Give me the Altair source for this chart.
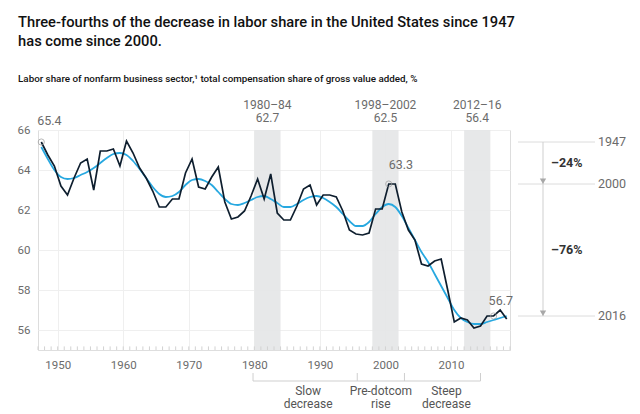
import altair as alt
import pandas as pd

# ---------------- data ----------------
years = list(range(1947, 2019))
labor_share = [
    65.4, 64.75, 64.2, 63.2, 62.75, 63.6, 64.35, 64.55, 63.0, 64.95,
    64.95, 65.05, 64.2, 65.45, 64.85, 64.1, 63.6, 62.95, 62.15, 62.15,
    62.55, 62.55, 63.85, 64.55, 63.15, 63.05, 63.65, 64.15, 62.4, 61.55,
    61.65, 61.95, 62.7, 63.55, 62.55, 63.8, 61.85, 61.5, 61.5, 62.2,
    63.05, 63.25, 62.25, 62.75, 62.75, 62.65, 61.95, 61.0, 60.8, 60.75,
    60.85, 62.05, 62.05, 63.3, 63.3, 61.9, 61.0, 60.5, 59.3, 59.2,
    59.45, 59.55, 58.0, 56.4, 56.6, 56.5, 56.1, 56.2, 56.7, 56.7,
    57.0, 56.55,
]
trend = [
    65.15, 64.55, 64.0, 63.65, 63.55, 63.6, 63.75, 63.9, 64.1, 64.35,
    64.6, 64.8, 64.85, 64.75, 64.45, 64.05, 63.6, 63.15, 62.8, 62.65,
    62.7, 62.9, 63.25, 63.5, 63.55, 63.45, 63.25, 62.9, 62.55, 62.3,
    62.25, 62.35, 62.5, 62.65, 62.7, 62.55, 62.35, 62.15, 62.15, 62.3,
    62.5, 62.65, 62.7, 62.6, 62.4, 62.15, 61.8, 61.45, 61.2, 61.2,
    61.4, 61.8, 62.15, 62.3, 62.15, 61.7, 61.1, 60.5, 59.9, 59.4,
    58.8, 58.2, 57.6, 57.0, 56.6, 56.4, 56.3, 56.3, 56.4, 56.5,
    56.6, 56.7,
]

band_starts = [1980, 1998, 2012]
band_ends = [1984, 2002, 2016]
band_periods = ["1980–84", "1998–2002", "2012–16"]
band_averages = ["62.7", "62.5", "56.4"]

callout_years = [1947, 2000, 2016]
callout_values = [65.4, 63.3, 56.7]
callout_texts = ["65.4", "63.3", "56.7"]

change_labels = ["–24%", "–76%"]
change_positions = [64.35, 60.0]

phase_bounds = [1979.8, 1995.7, 2002.9, 2014.5]
phase_centers = [1988.2, 1999.3, 2009.3]
phase_line1 = ["Slow", "Pre-dotcom", "Steep"]
phase_line2 = ["decrease", "rise", "decrease"]

axis_years = list(range(1947, 2020))
x_label_years = [1950, 1960, 1970, 1980, 1990, 2000, 2010]
y_label_values = [56, 58, 60, 62, 64, 66]

FONT = "Roboto"
GRAY = "#6b6b6b"

# ---------------- tables ----------------
series = pd.DataFrame({"year": years, "share": labor_share, "trend": trend})
bands = pd.DataFrame({"start": band_starts, "end": band_ends,
                      "period": band_periods, "avg": band_averages})
bands["mid"] = (bands["start"] + bands["end"]) / 2
callouts = pd.DataFrame({"year": callout_years, "value": callout_values,
                         "label": callout_texts})
callouts["pos"] = callouts["year"] + 0.5
changes = pd.DataFrame({"label": change_labels, "value": change_positions})
phases = pd.DataFrame({"center": phase_centers, "l1": phase_line1, "l2": phase_line2})
bounds_df = pd.DataFrame({"x": phase_bounds})
span_df = pd.DataFrame({"x": [phase_bounds[0]], "x2": [phase_bounds[-1]]})
ticks_df = pd.DataFrame({"year": axis_years})

xscale = alt.Scale(domain=[1947, 2019], nice=False, zero=False)
yscale = alt.Scale(domain=[55, 66], nice=False, zero=False)

base = alt.Chart(series)

band_layer = alt.Chart(bands).mark_rect(color="#e4e5e7", opacity=0.9).encode(
    x=alt.X("start:Q", scale=xscale,
            axis=alt.Axis(values=x_label_years, format="d", title=None, grid=True,
                          gridColor="#efefef", ticks=False, domain=True,
                          domainColor="#dedede", labelColor=GRAY, labelFont=FONT,
                          labelFontSize=11.5, labelPadding=9)),
    x2="end:Q",
)

tick_layer = alt.Chart(ticks_df).mark_rule(color="#d2d2d2", strokeWidth=1).encode(
    x=alt.X("year:Q", scale=xscale),
    y=alt.datum(55, scale=yscale),
    y2=alt.datum(55.18),
)

trend_layer = base.transform_calculate(pos="datum.year + 0.5").mark_line(
    color="#27a8e0", strokeWidth=1.8, interpolate="monotone"
).encode(
    x=alt.X("pos:Q", scale=xscale),
    y=alt.Y("trend:Q", scale=yscale,
            axis=alt.Axis(values=y_label_values, title=None, grid=True,
                          gridColor="#efefef", ticks=False, domain=False,
                          labelColor=GRAY, labelFont=FONT, labelFontSize=11.5,
                          labelPadding=8)),
)

share_layer = base.transform_calculate(pos="datum.year + 0.5").mark_line(
    color="#0e1e2e", strokeWidth=1.7
).encode(
    x=alt.X("pos:Q", scale=xscale),
    y=alt.Y("share:Q", scale=yscale),
)

circle_layer = alt.Chart(callouts).mark_point(
    shape="circle", size=38, filled=False, color="#9a9a9a", strokeWidth=1
).encode(x=alt.X("pos:Q", scale=xscale), y=alt.Y("value:Q", scale=yscale))

callout_text_layers = []
for i, (dx, dy) in enumerate([(-4, -21), (0, -19), (-5, -15)]):
    callout_text_layers.append(
        alt.Chart(callouts.iloc[[i]]).mark_text(
            align="left", baseline="middle", dx=dx, dy=dy, font=FONT,
            fontSize=12.5, color=GRAY
        ).encode(x=alt.X("pos:Q", scale=xscale), y=alt.Y("value:Q", scale=yscale),
                 text="label:N")
    )

band_period_layer = alt.Chart(bands).mark_text(
    baseline="middle", dy=-25.5, font=FONT, fontSize=12, color=GRAY
).encode(x=alt.X("mid:Q", scale=xscale), y=alt.datum(66, scale=yscale), text="period:N")

band_avg_layer = alt.Chart(bands).mark_text(
    baseline="middle", dy=-12, font=FONT, fontSize=12, color=GRAY
).encode(x=alt.X("mid:Q", scale=xscale), y=alt.datum(66, scale=yscale), text="avg:N")

# right-hand change annotation
ref_lines = alt.Chart(callouts).mark_rule(color="#dcdcdc", strokeWidth=1).encode(
    x=alt.value(480), x2=alt.value(557), y=alt.Y("value:Q", scale=yscale)
)
ref_labels = alt.Chart(callouts).mark_text(
    align="left", baseline="middle", font=FONT, fontSize=12.5, color=GRAY
).encode(x=alt.value(560), y=alt.Y("value:Q", scale=yscale), text="year:N")
arrow_stem = alt.Chart(callouts.iloc[[0]]).mark_rule(color="#cfcfcf", strokeWidth=1).encode(
    x=alt.value(505), y=alt.datum(callout_values[0], scale=yscale),
    y2=alt.datum(callout_values[-1])
)
arrow_heads = alt.Chart(callouts.iloc[1:]).mark_point(
    shape="M-1,-1.7L1,-1.7L0,0Z", size=40, filled=True, color="#a8a8a8", opacity=1
).encode(x=alt.value(505), y=alt.Y("value:Q", scale=yscale))
change_text = alt.Chart(changes).mark_text(
    align="left", baseline="middle", font=FONT, fontSize=12.5, fontWeight="bold",
    color="#333333"
).encode(x=alt.value(513), y=alt.Y("value:Q", scale=yscale), text="label:N")

# bottom phase brackets
bracket_line = alt.Chart(span_df).mark_rule(color="#cfcfcf", strokeWidth=1).encode(
    x=alt.X("x:Q", scale=xscale), x2="x2:Q", y=alt.value(251)
)
bracket_ticks = alt.Chart(bounds_df).mark_rule(color="#cfcfcf", strokeWidth=1).encode(
    x=alt.X("x:Q", scale=xscale), y=alt.value(243), y2=alt.value(251)
)
phase_text1 = alt.Chart(phases).mark_text(
    baseline="alphabetic", font=FONT, fontSize=12, color="#555555"
).encode(x=alt.X("center:Q", scale=xscale), y=alt.value(264.5), text="l1:N")
phase_text2 = alt.Chart(phases).mark_text(
    baseline="alphabetic", font=FONT, fontSize=12, color="#555555"
).encode(x=alt.X("center:Q", scale=xscale), y=alt.value(278), text="l2:N")

chart = alt.layer(
    band_layer, tick_layer, trend_layer, share_layer, circle_layer,
    *callout_text_layers, band_period_layer, band_avg_layer,
    ref_lines, ref_labels, arrow_stem, arrow_heads, change_text,
    bracket_line, bracket_ticks, phase_text1, phase_text2,
).properties(
    width=472,
    height=220,
    title=alt.TitleParams(
        text=["Three-fourths of the decrease in labor share in the United States since 1947",
              "has come since 2000."],
        subtitle="Labor share of nonfarm business sector,¹ total compensation share of gross value added, %",
        anchor="start", dx=1, offset=15, font=FONT, fontSize=14.7, fontWeight=500,
        color="#111111", lineHeight=19.5, subtitleFont=FONT, subtitleFontSize=9.8,
        subtitleFontWeight=500, subtitleColor="#111111", subtitlePadding=25,
    ),
    autosize=alt.AutoSizeParams(type="none"),
    padding={"left": 30, "top": 122, "right": 122, "bottom": 62},
).configure_view(stroke=None).configure(background="white")

chart.save("out.html", embed_options={"renderer": "svg", "actions": False})
